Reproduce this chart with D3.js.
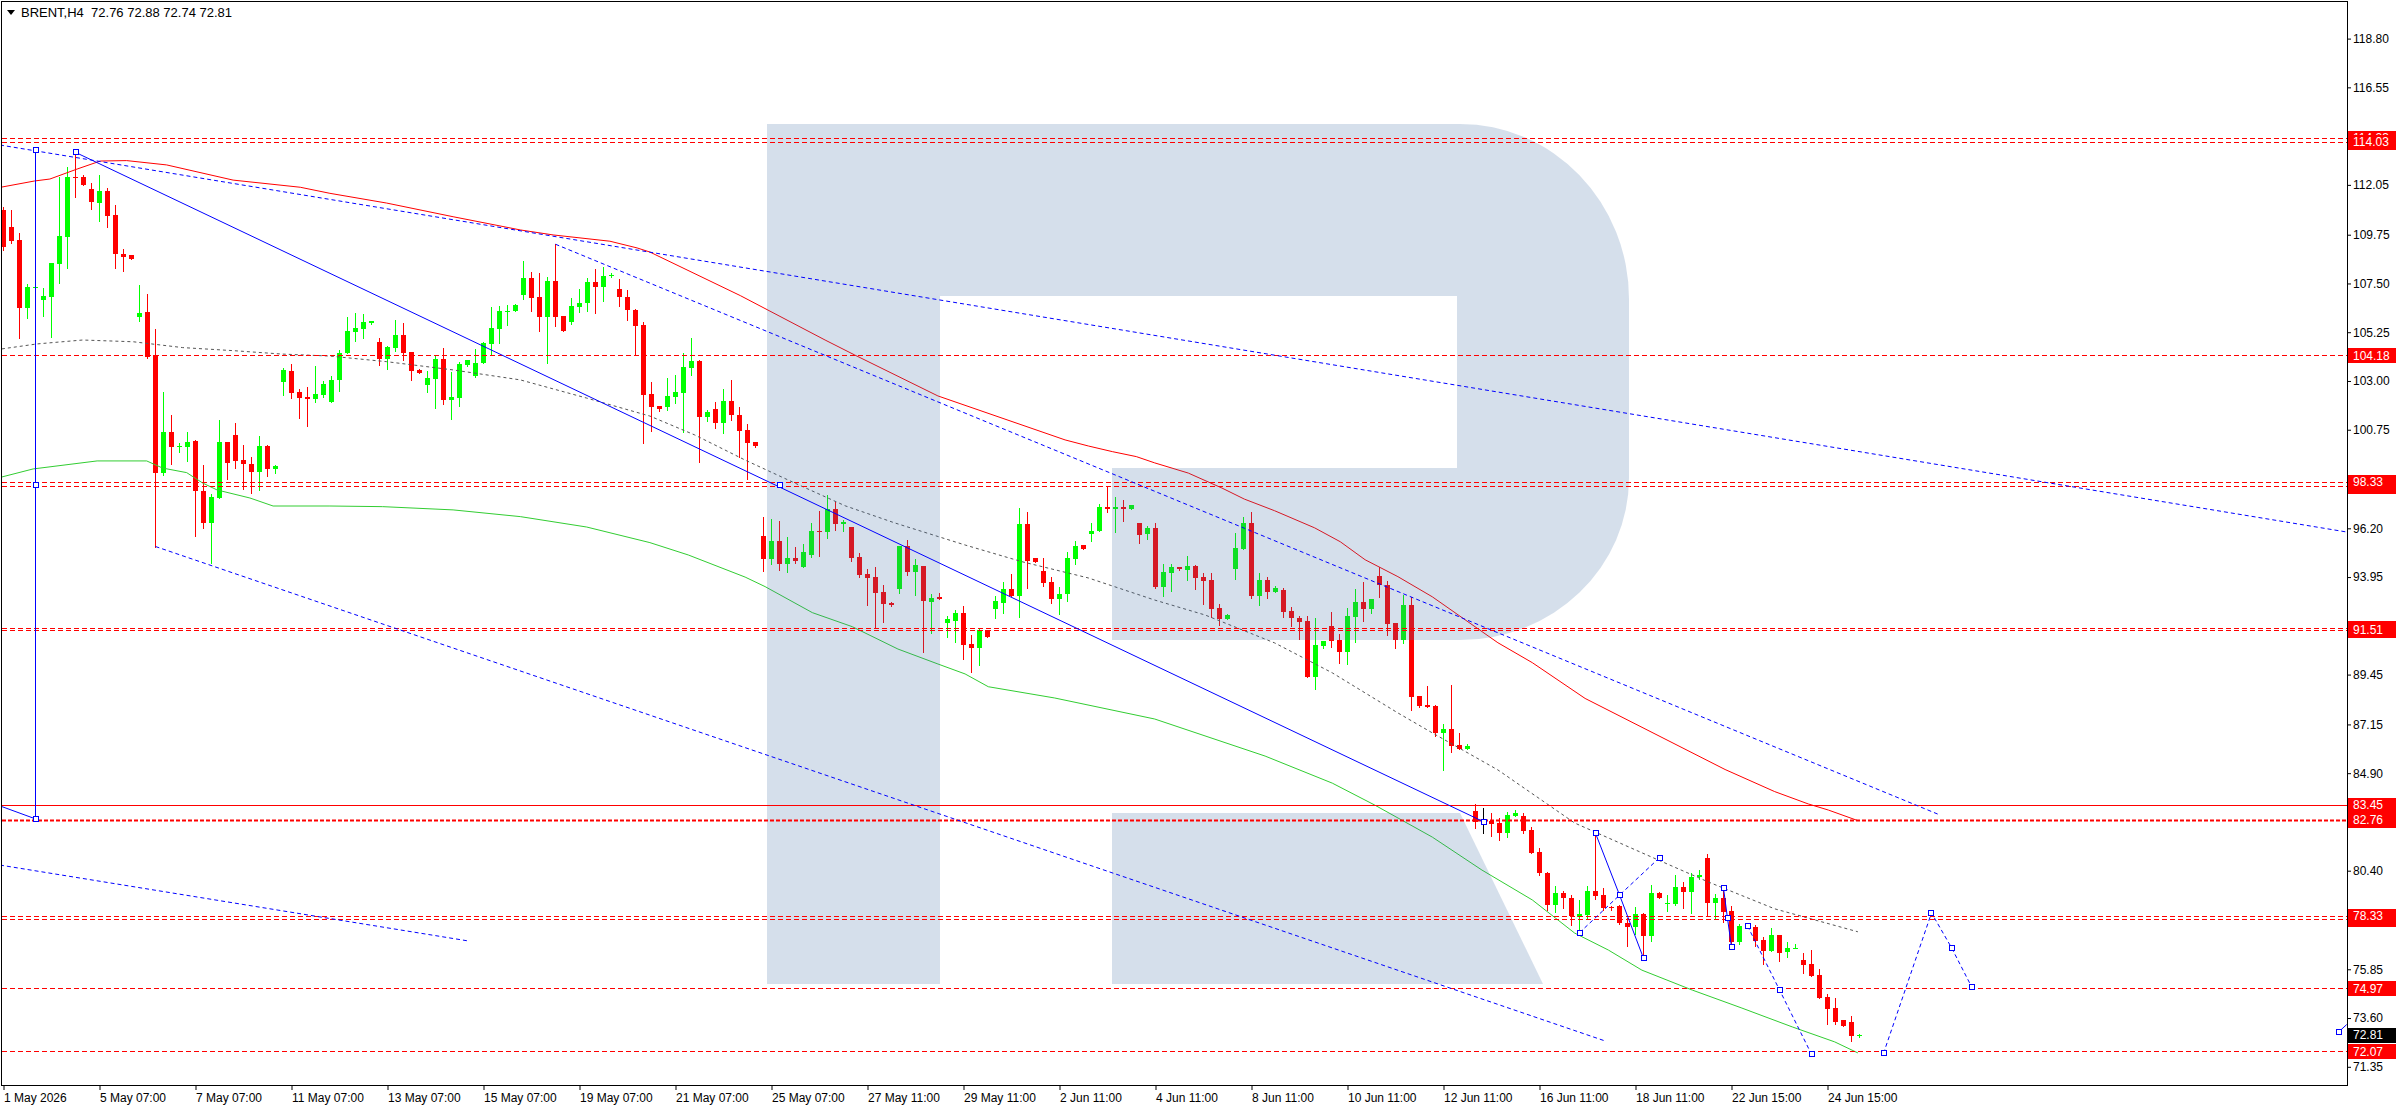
<!doctype html>
<html>
<head>
<meta charset="utf-8">
<style>
  body { margin: 0; background: #fff; }
  svg { display: block; font-family: "Liberation Sans", Arial, sans-serif; }
</style>
<script src="https://d3js.org/d3.v7.min.js"></script>
</head>
<body>
<script>
// BRENT H4 candles, one value per bar (bar 0 = 1 May 2026)
var opens = [
  110.9,110.12,109.5,106.38,107.3,106.74,106.89,108.4,109.66,112.4,
  112.4,111.86,111.23,111.77,110.66,108.86,108.82,105.97,106.19,104.19,
  98.77,100.65,99.95,99.97,100.25,97.94,96.46,97.62,100.19,100.52,
  99.35,99.17,98.82,100.0,98.95,102.97,103.46,102.48,102.28,102.16,
  102.36,102.05,103.05,104.27,105.28,105.41,105.66,104.78,104.01,104.54,
  105.12,104.32,103.51,102.82,103.09,104.0,102.12,102.23,103.74,103.25,
  103.85,104.71,105.4,106.2,106.23,106.97,107.74,106.86,105.97,107.6,
  106.0,105.74,106.43,106.58,107.57,107.35,107.88,107.25,106.86,106.28,
  105.58,102.4,101.85,101.81,102.28,102.46,103.61,103.92,101.35,101.69,
  101.08,102.08,101.43,100.74,100.17,95.85,94.8,95.6,94.54,94.82,
  94.43,94.97,96.08,96.05,97.09,96.4,96.25,94.88,94.09,93.94,
  93.26,92.75,93.4,95.38,94.2,94.46,92.82,93.05,91.85,91.94,
  92.28,90.86,90.69,91.51,92.49,92.77,93.4,93.09,96.4,94.82,
  94.23,93.71,92.93,93.15,94.8,95.42,95.95,96.09,97.17,97.09,
  97.17,97.11,96.46,95.95,96.23,93.51,94.15,94.42,94.28,94.46,
  93.97,93.82,92.51,92.02,94.32,95.25,96.43,93.09,93.82,93.28,
  93.35,92.39,92.08,91.94,89.36,90.77,91.69,91.05,90.51,92.12,
  92.82,92.46,94.0,93.59,91.82,91.05,92.66,88.46,88.05,88.0,
  86.77,86.94,86.19,86.03,83.17,82.66,82.71,82.59,82.13,82.93,
  82.93,82.28,81.28,80.28,78.8,79.36,79.13,78.24,78.37,79.46,
  79.27,78.74,78.78,77.98,77.78,78.4,77.4,79.35,78.88,78.86,
  79.67,79.43,80.09,80.97,78.91,79.12,78.52,77.12,77.86,77.81,
  77.2,76.71,77.44,76.63,76.83,76.28,76.09,75.58,74.58,74.06,
  73.51,73.43,72.76
];
var highs = [
  111.05,110.89,109.82,107.48,107.4,107.28,108.43,112.43,112.89,113.55,
  112.51,112.15,112.51,111.89,111.12,109.09,108.82,107.43,107.02,105.39,
  102.5,101.43,100.13,100.65,100.28,99.13,97.79,101.2,100.19,101.08,
  100.05,99.48,100.46,100.05,99.13,103.59,103.79,102.62,102.71,103.7,
  103.0,103.23,104.43,105.97,106.12,106.09,105.75,104.97,104.63,105.82,
  105.66,104.32,103.54,103.46,104.2,104.51,103.4,103.86,103.97,104.48,
  104.81,106.4,106.46,106.51,106.54,108.54,108.02,107.97,107.78,109.31,
  106.0,106.81,107.25,107.74,108.15,108.25,107.97,107.71,107.2,106.31,
  105.74,102.94,101.85,103.15,103.28,104.28,105.0,103.95,101.66,102.03,
  102.61,103.05,101.78,101.01,100.2,96.71,96.62,96.54,95.78,95.32,
  95.48,96.46,97.0,97.74,97.42,96.58,96.28,95.08,94.32,94.4,
  93.58,92.8,95.38,95.66,94.8,94.46,93.17,93.2,92.15,92.43,
  92.62,91.28,91.62,91.51,93.08,93.71,94.08,97.12,96.94,94.82,
  94.83,93.94,93.48,95.09,95.62,95.43,96.43,97.33,98.17,97.63,
  97.51,97.28,96.46,96.32,96.46,94.54,94.54,94.43,94.92,94.51,
  94.12,94.12,92.71,92.25,95.97,96.74,96.97,94.15,93.95,93.54,
  93.43,92.55,92.17,92.15,92.08,91.0,92.36,91.32,92.54,93.39,
  93.74,92.94,94.4,93.77,91.82,93.12,93.02,88.46,88.92,88.05,
  87.17,88.97,86.77,86.25,83.48,83.28,83.05,82.82,83.13,83.2,
  83.08,82.4,81.43,80.35,79.7,79.45,79.3,79.04,79.71,82.17,
  79.6,78.78,78.81,78.2,78.74,78.44,79.74,79.4,79.28,80.2,
  79.9,80.29,80.43,81.17,79.32,79.63,78.75,77.94,78.0,77.89,
  77.32,77.74,77.44,77.09,77.01,76.6,76.74,75.86,74.71,74.52,
  73.51,73.71,72.88
];
var lows = [
  109.05,109.35,105.0,105.9,107.25,106.02,105.05,107.51,108.2,111.51,
  112.05,110.92,110.4,110.12,108.23,108.09,108.62,105.79,104.05,95.36,
  98.66,99.17,99.74,99.32,95.85,96.2,94.6,97.59,98.46,98.97,
  98.0,97.85,97.97,98.63,98.77,102.35,102.23,101.31,100.9,102.05,
  102.28,102.05,102.55,104.27,104.86,104.98,105.63,103.74,103.55,104.38,
  103.97,103.05,103.35,102.49,101.77,101.94,101.23,101.86,103.69,103.2,
  103.85,104.2,104.77,105.58,106.23,106.77,106.25,105.32,103.85,105.55,
  105.32,105.63,106.17,106.25,106.12,106.71,107.78,106.48,105.82,104.25,
  100.12,100.71,101.63,101.66,102.0,100.63,103.29,99.28,101.17,100.85,
  100.61,101.2,99.48,98.46,99.97,94.25,94.54,94.28,94.17,94.62,
  94.43,94.86,94.92,95.77,96.12,96.08,94.71,93.94,92.66,91.59,
  91.89,92.63,93.23,94.05,93.12,90.51,91.35,92.92,91.2,90.97,
  90.15,89.59,89.9,91.2,92.05,92.31,93.08,92.12,93.43,94.66,
  93.55,92.74,92.25,92.86,94.54,95.23,95.62,96.09,96.97,96.05,
  96.55,97.08,95.54,95.72,93.46,93.09,93.32,94.28,93.82,93.39,
  92.71,92.12,91.74,92.02,93.88,95.23,92.97,92.66,93.0,93.28,
  92.12,91.71,91.08,89.33,88.79,90.69,90.74,90.0,89.93,90.97,
  91.94,92.31,93.05,91.28,90.69,90.92,87.82,87.97,87.94,86.63,
  85.05,85.9,86.0,86.0,82.36,82.13,82.0,81.82,81.97,82.93,
  82.16,81.2,80.21,78.6,78.5,78.7,77.9,77.71,78.17,79.09,
  78.6,78.6,77.94,76.94,77.48,76.48,77.17,79.12,78.55,78.81,
  78.7,78.44,80.01,78.32,78.21,78.05,77.06,77.01,77.75,76.94,
  76.09,76.71,76.24,76.44,76.81,75.68,75.55,74.52,73.32,73.32,
  73.24,72.55,72.74
];
var closes = [
  109.2,109.48,106.38,107.32,107.32,106.92,108.43,109.69,112.4,112.37,
  112.05,111.28,111.78,110.63,108.85,108.74,108.62,106.15,104.12,98.77,
  100.65,99.97,99.99,100.19,97.9,96.46,97.66,100.19,99.2,99.32,
  99.17,98.82,100.0,98.95,99.08,103.51,102.46,102.23,102.16,102.4,
  102.86,103.05,104.27,105.31,105.45,105.72,105.75,104.01,104.57,105.12,
  104.31,103.48,103.38,103.14,104.0,102.12,102.25,103.78,103.95,103.81,
  104.74,105.45,106.23,106.23,106.51,107.74,106.85,105.97,107.6,105.97,
  105.32,106.46,106.6,107.57,107.35,107.85,107.91,106.86,106.28,105.55,
  102.35,101.81,101.71,102.31,102.51,103.66,103.92,101.35,101.58,101.08,
  102.08,101.41,100.71,100.15,100.0,94.8,95.6,94.54,94.82,94.71,
  95.09,96.06,96.02,97.09,96.4,96.51,94.85,94.05,93.92,93.23,
  92.71,92.66,95.38,94.2,94.51,92.86,93.0,92.92,92.0,92.31,
  90.82,90.69,91.51,91.2,92.83,93.4,93.08,96.4,94.71,94.66,
  93.69,92.93,93.17,94.83,95.39,95.25,96.08,97.17,97.08,97.17,
  97.09,97.28,95.89,96.2,93.49,94.17,94.42,94.32,94.46,93.92,
  93.79,92.49,92.02,92.22,95.31,96.43,93.09,93.82,93.28,93.46,
  92.36,92.05,91.89,89.36,90.82,91.0,91.02,90.51,92.15,92.82,
  92.46,92.94,93.59,91.79,91.05,92.66,88.43,88.0,87.94,86.77,
  86.94,86.16,86.03,86.16,82.66,82.66,82.56,82.13,82.97,83.05,
  82.25,81.23,80.28,78.8,79.36,79.13,78.3,78.4,79.46,79.21,
  78.69,78.66,77.97,77.78,78.4,77.4,79.37,79.14,78.91,79.67,
  79.43,80.12,80.2,78.91,79.12,78.51,77.09,77.86,77.9,77.17,
  76.71,77.44,76.6,76.83,76.85,76.06,75.55,74.52,74.01,73.43,
  73.24,72.78,72.81
];

// time axis: one label every 12 bars
var timeLabels = ["1 May 2026","5 May 07:00","7 May 07:00","11 May 07:00","13 May 07:00","15 May 07:00",
  "19 May 07:00","21 May 07:00","25 May 07:00","27 May 11:00","29 May 11:00","2 Jun 11:00","4 Jun 11:00",
  "8 Jun 11:00","10 Jun 11:00","12 Jun 11:00","16 Jun 11:00","18 Jun 11:00","22 Jun 15:00","24 Jun 15:00"];
var priceTicks = [118.80,116.55,114.30,112.05,109.75,107.50,105.25,103.00,100.75,98.45,96.20,93.95,
  91.70,89.45,87.15,84.90,82.65,80.40,78.10,75.85,73.60,71.35];

// horizontal levels
var dashedLevels = [114.23,114.03,104.18,98.33,98.16,91.61,91.51,78.33,78.15,74.97,72.07];
var solidLevels = [83.45];
var boldLevels = [82.76];
var levelLabels = [114.23,114.03,104.18,98.16,98.33,91.61,91.51,83.45,82.76,78.15,78.33,74.97,72.07];
var lastPrice = 72.81;

// moving averages as [bar, price]
var redMA = [[-0.2,111.95],[3.9,112.23],[5.8,112.32],[9.2,112.78],[12.1,113.15],[15.4,113.17],[20.4,112.97],
  [28.7,112.27],[37.1,111.94],[40.8,111.66],[47.9,111.21],[56.2,110.58],[64.6,109.97],[68.7,109.74],[75.8,109.45],
  [79.2,109.14],[80.8,108.95],[92.1,106.94],[102.7,104.89],[106.4,104.2],[116.8,102.31],[132.7,100.28],[135.6,100.0],
  [138.6,99.74],[141.6,99.51],[143.9,99.22],[148.1,98.75],[152.3,98.06],[155.1,97.55],[158.9,97.01],[163.9,96.22],
  [167.1,95.58],[170.2,94.75],[174.3,93.97],[178.6,93.04],[182.7,91.98],[186.8,90.92],[191.1,90.0],[197.7,88.35],
  [215.2,85.07],[221.4,84.05],[225.6,83.48],[228.1,83.2],[231.8,82.71]];
var greenMA = [[-0.2,98.57],[3.7,98.94],[11.7,99.31],[17.9,99.31],[19.9,98.98],[22.9,98.77],[24.9,98.29],[26.7,97.97],
  [30.8,97.6],[33.7,97.23],[40.8,97.23],[47.4,97.2],[56.2,97.05],[64.6,96.74],[72.9,96.26],[80.8,95.54],[85.6,94.97],
  [92.7,93.95],[95.2,93.51],[101.1,92.31],[106.1,91.66],[111.8,90.63],[116.8,89.94],[120.2,89.48],[123.1,88.89],
  [131.4,88.37],[143.9,87.4],[157.7,85.69],[166.1,84.44],[171.4,83.43],[178.6,81.95],[184.8,80.43],[191.1,79.05],
  [196.4,77.52],[200.6,76.74],[204.8,75.81],[211.1,74.89],[217.3,74.06],[223.6,73.19],[228.9,72.5],[231.8,71.99]];
var grayMA = [[-0.2,104.48],[4.2,104.71],[9.9,104.89],[16.2,104.81],[22.4,104.54],[28.7,104.4],[34.9,104.24],
  [40.8,104.15],[47.9,103.89],[56.2,103.51],[64.6,103.05],[72.9,102.21],[80.8,101.38],[86.4,100.51],[92.7,99.35],
  [98.9,98.29],[105.2,97.24],[111.4,96.45],[120.2,95.43],[127.3,94.66],[135.6,93.91],[143.9,92.89],[150.2,92.2],
  [158.9,90.91],[166.1,89.53],[174.3,87.68],[178.6,86.76],[186.8,85.05],[196.4,82.6],[206.8,80.9],[213.1,79.88],
  [221.4,78.64],[231.8,77.58]];

// drawn objects as [bar, price]
var longDashLine = [[-0.44,113.89],[292.9,96.03]];
var upperChannel = [[69,109.31],[242.06,82.97]];
var lowerChannel = [[19,95.36],[200.06,72.56]];
var leftDashLine = [[-0.44,80.66],[58.06,77.16]];
var mainTrend = [[9,113.55],[185,82.66]];
var verticalLine = [[4,113.65],[4,82.79]];
var leftStub = [[-0.44,83.39],[4,82.79]];
var anchorPoints = [[4,113.65],[4,98.2],[4,82.79],[9,113.55],[97,98.2],[185,82.66]];
var swingSolidA = [[199,82.13],[202,79.28],[205,76.36]];
var swingDashA = [[197,77.54],[207,81.0]];
var swingSolidB = [[215,79.59],[215.5,78.2],[216,76.87]];
var forecastDown = [[218,77.85],[222,74.9],[226,71.93]];
var forecastUp = [[235,71.97],[241,78.45],[243.5,76.85],[246,75.05]];
var edgeMark = [[291.9,72.96],[292.9,73.3]];

var W = 2396, H = 1110;
var svg = d3.select("body").append("svg").attr("width", W).attr("height", H);
svg.append("rect").attr("width", W).attr("height", H).attr("fill", "#fff");

var xs = d3.scaleLinear().domain([0, 232]).range([3.5, 3.5 + 8 * 232]);
var ys = d3.scaleLinear().domain([118.80, 71.35]).range([38.6, 1066.8]);

svg.append("clipPath").attr("id", "plotClip").append("rect")
    .attr("x", 2).attr("y", 2).attr("width", 2345).attr("height", 1083);
var plot = svg.append("g").attr("clip-path", "url(#plotClip)");

var line = d3.line().x(function(d) { return xs(d[0]); }).y(function(d) { return ys(d[1]); });

// candles
var bars = d3.range(opens.length).map(function(i) {
    return {i: i, o: opens[i], h: highs[i], l: lows[i], c: closes[i]};
});
function candleColor(d) {
    if (d.c > d.o) return "#00ff00";
    if (d.c < d.o) return "#ff0000";
    return "#000000";
}
var candles = plot.append("g").selectAll("g").data(bars).enter().append("g");
candles.append("line")
    .attr("x1", function(d) { return xs(d.i); })
    .attr("x2", function(d) { return xs(d.i); })
    .attr("y1", function(d) { return Math.round(ys(d.h)); })
    .attr("y2", function(d) { return Math.round(ys(d.l)) + 1; })
    .attr("stroke", candleColor);
candles.append("rect")
    .attr("x", function(d) { return xs(d.i) - 2.5; })
    .attr("width", 5)
    .attr("y", function(d) { return Math.round(ys(Math.max(d.o, d.c))); })
    .attr("height", function(d) {
        return Math.max(1, Math.round(ys(Math.min(d.o, d.c))) - Math.round(ys(Math.max(d.o, d.c))));
    })
    .attr("fill", candleColor);

// moving averages
plot.append("path").datum(redMA).attr("d", line).attr("fill", "none").attr("stroke", "#ff0000");
plot.append("path").datum(greenMA).attr("d", line).attr("fill", "none").attr("stroke", "#32cd32");
plot.append("path").datum(grayMA).attr("d", line).attr("fill", "none").attr("stroke", "#555555")
    .attr("stroke-dasharray", "3,3");

// watermark logo (semi-transparent, over candles)
plot.append("path")
    .attr("d", "M767,124 H1460 A169,175 0 0 1 1629,299 V478 A169,162 0 0 1 1460,640 H1112 V468 H1457 V296 H940 V984 H767 Z")
    .attr("fill", "rgba(67,112,165,0.224)");
plot.append("path")
    .attr("d", "M1112,813 H1460 L1543,984 H1112 Z")
    .attr("fill", "rgba(67,112,165,0.224)");

// horizontal levels
function hline(v, style) {
    var y = Math.round(ys(v)) + 0.5;
    var l = plot.append("line").attr("x1", 2).attr("x2", 2347).attr("y1", y).attr("y2", y)
        .attr("stroke", "#ff0000");
    if (style === "dash") l.attr("stroke-dasharray", "5,3");
    if (style === "bold") l.attr("stroke-width", 2).attr("stroke-dasharray", "4,2");
}
dashedLevels.forEach(function(v) { hline(v, "dash"); });
solidLevels.forEach(function(v) { hline(v, "solid"); });
boldLevels.forEach(function(v) { hline(v, "bold"); });

// trend lines
function tline(pts, dashed) {
    var p = plot.append("path").datum(pts).attr("d", line).attr("fill", "none").attr("stroke", "#0000ff");
    if (dashed) p.attr("stroke-dasharray", "4,3");
    return p;
}
tline(longDashLine, true);
tline(upperChannel, true);
tline(lowerChannel, true);
tline(leftDashLine, true);
tline(mainTrend, false);
tline(verticalLine, false);
tline(leftStub, false);
tline(swingSolidA, false);
tline(swingDashA, true);
tline(swingSolidB, false);
tline(forecastDown, true);
tline(forecastUp, true);
tline(edgeMark, false);

var squares = anchorPoints.concat(swingSolidA, swingDashA, swingSolidB, forecastDown, forecastUp, [edgeMark[0]]);
plot.append("g").selectAll("rect").data(squares).enter().append("rect")
    .attr("x", function(d) { return Math.round(xs(d[0])) - 2.5; })
    .attr("y", function(d) { return Math.round(ys(d[1])) - 2.5; })
    .attr("width", 5).attr("height", 5)
    .attr("fill", "#fff").attr("stroke", "#0000ff");

// frame
svg.append("rect").attr("x", 1.5).attr("y", 1.5).attr("width", 2346).attr("height", 1084)
    .attr("fill", "none").attr("stroke", "#000");

// axes
var xAxis = svg.append("g").attr("transform", "translate(0,1085)")
    .call(d3.axisBottom(xs)
        .tickValues(d3.range(0, 229, 12))
        .tickFormat(function(d, i) { return timeLabels[i]; })
        .tickSize(5).tickSizeOuter(0).tickPadding(3));
xAxis.select(".domain").remove();
xAxis.selectAll("text").attr("text-anchor", "start").attr("font-size", 12)
    .attr("font-family", "'Liberation Sans', Arial, sans-serif").attr("fill", "#000");

var yAxis = svg.append("g").attr("transform", "translate(2347,0)")
    .call(d3.axisRight(ys)
        .tickValues(priceTicks)
        .tickFormat(d3.format(".2f"))
        .tickSize(4).tickSizeOuter(0).tickPadding(2));
yAxis.select(".domain").remove();
yAxis.selectAll("text").attr("font-size", 12)
    .attr("font-family", "'Liberation Sans', Arial, sans-serif").attr("fill", "#000");

// price labels on the right
function priceBox(v, bg) {
    var y = ys(v);
    svg.append("rect").attr("x", 2348).attr("y", Math.round(y) - 7).attr("width", 48).attr("height", 15)
        .attr("fill", bg);
    svg.append("text").attr("x", 2353).attr("y", y).attr("dy", "0.36em")
        .attr("font-size", 12).attr("fill", "#fff").text(v.toFixed(2));
}
levelLabels.forEach(function(v) { priceBox(v, "#ff0000"); });
priceBox(lastPrice, "#000000");

// header
svg.append("path").attr("d", "M7,10 L15,10 L11,15 Z").attr("fill", "#000");
svg.append("text").attr("x", 21).attr("y", 17).attr("font-size", 13).attr("fill", "#000")
    .style("white-space", "pre")
    .text("BRENT,H4  " + [opens[232], highs[232], lows[232], closes[232]].map(function(v) { return v.toFixed(2); }).join(" "));
</script>
</body>
</html>
